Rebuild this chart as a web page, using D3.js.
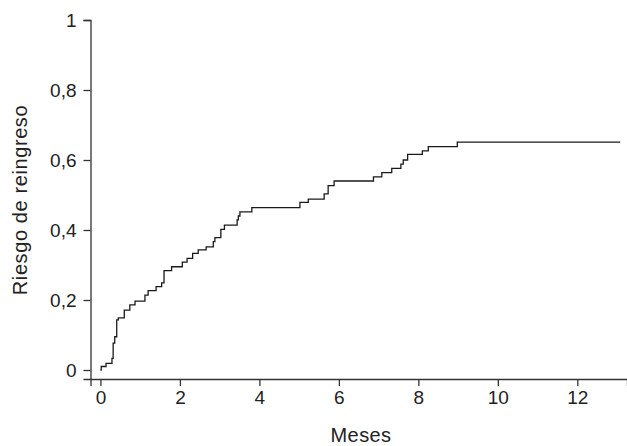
<!DOCTYPE html>
<html>
<head>
<meta charset="utf-8">
<script src="https://cdn.jsdelivr.net/npm/d3@7"></script>
<style>
  html, body { margin: 0; padding: 0; background: #fff; }
  svg { display: block; }
  text { font-family: "Liberation Sans", Arial, Helvetica, sans-serif; fill: #222; }
</style>
</head>
<body>
<svg id="chart" width="627" height="446"></svg>
<script>
// Data (months, cumulative readmission risk)
const months = [0, 0.02, 0.14, 0.29, 0.32, 0.36, 0.41, 0.45, 0.60, 0.74, 0.87, 1.12, 1.20, 1.40, 1.54, 1.60, 1.79, 2.06, 2.18, 2.32, 2.46, 2.66, 2.84, 2.88, 3.03, 3.12, 3.44, 3.47, 3.51, 3.81, 5.02, 5.23, 5.63, 5.73, 5.88, 6.87, 7.08, 7.33, 7.56, 7.62, 7.73, 8.10, 8.25, 8.98, 13.08];
const risk   = [0, 0.010, 0.019, 0.033, 0.077, 0.095, 0.143, 0.149, 0.171, 0.186, 0.197, 0.214, 0.227, 0.238, 0.249, 0.284, 0.295, 0.308, 0.319, 0.333, 0.343, 0.352, 0.367, 0.378, 0.402, 0.414, 0.429, 0.440, 0.452, 0.464, 0.479, 0.488, 0.503, 0.527, 0.540, 0.552, 0.564, 0.576, 0.588, 0.600, 0.616, 0.626, 0.638, 0.651, 0.651];
const xTicks = [0, 2, 4, 6, 8, 10, 12];
const xTickLabels = ["0", "2", "4", "6", "8", "10", "12"];
const yTicks = [0, 0.2, 0.4, 0.6, 0.8, 1];
const yTickLabels = ["0", "0,2", "0,4", "0,6", "0,8", "1"];
const xTitle = "Meses";
const yTitle = "Riesgo de reingreso";

const svg = d3.select("#chart");
const x = d3.scaleLinear().domain([-0.25, 13.25]).range([90.5, 627]);
const y = d3.scaleLinear().domain([-0.0257, 1]).range([379, 20]);

const axisColor = "#333";

const gx = svg.append("g").attr("transform", "translate(0,379)")
  .call(d3.axisBottom(x).tickValues(xTicks).tickSizeOuter(0).tickSize(7).tickPadding(5)
    .tickFormat((d, i) => xTickLabels[i]));
gx.selectAll("text").style("font-size", "19px").attr("fill", "#222");

const gy = svg.append("g").attr("transform", "translate(90.5,0)")
  .call(d3.axisLeft(y).tickValues(yTicks).tickSizeOuter(0).tickSize(7).tickPadding(7)
    .tickFormat((d, i) => yTickLabels[i]));
gy.selectAll("text").style("font-size", "19px").attr("fill", "#222");

svg.selectAll(".domain, .tick line").attr("stroke", axisColor).attr("stroke-width", 1.3);

// Step curve
const pts = months.map((m, i) => [m, risk[i]]);
svg.append("path")
  .datum(pts)
  .attr("fill", "none")
  .attr("stroke", "#1a1a1a")
  .attr("stroke-width", 1.3)
  .attr("d", d3.line().x(d => x(d[0])).y(d => y(d[1])).curve(d3.curveStepAfter));

// Titles
svg.append("text")
  .attr("x", 361).attr("y", 442)
  .attr("text-anchor", "middle")
  .style("font-size", "20px").style("letter-spacing", "0.4px")
  .text(xTitle);

svg.append("text")
  .attr("transform", "translate(27,200) rotate(-90)")
  .attr("text-anchor", "middle")
  .style("font-size", "20px").style("letter-spacing", "0.6px")
  .text(yTitle);
</script>
</body>
</html>
